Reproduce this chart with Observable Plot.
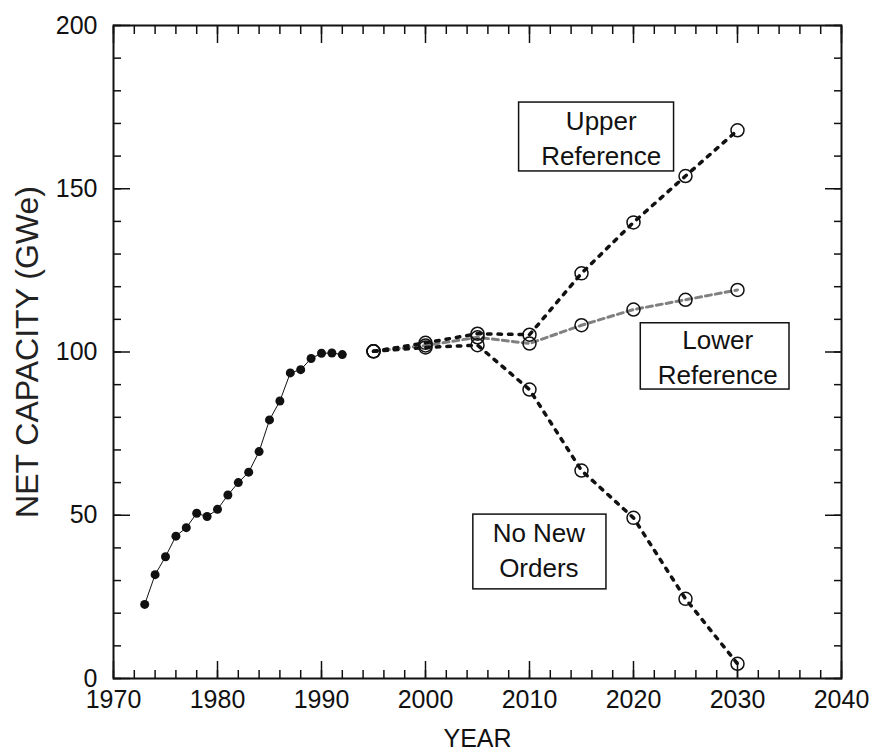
<!DOCTYPE html>
<html>
<head>
<meta charset="utf-8">
<script src="https://cdn.jsdelivr.net/npm/d3@7"></script>
<script src="https://cdn.jsdelivr.net/npm/@observablehq/plot@0.6"></script>
<style>
  html, body { margin: 0; padding: 0; background: #fff; }
  #chart svg { display: block; }
</style>
</head>
<body>
<div id="chart"></div>
<script>
// Historical net capacity (filled dots)
const histYears  = [1973, 1974, 1975, 1976, 1977, 1978, 1979, 1980, 1981, 1982, 1983, 1984, 1985, 1986, 1987, 1988, 1989, 1990, 1991, 1992];
const histValues = [22.7, 31.8, 37.3, 43.6, 46.2, 50.6, 49.6, 51.8, 56.2, 60.0, 63.2, 69.5, 79.2, 85.0, 93.6, 94.6, 98.0, 99.6, 99.7, 99.2];

// Projections (open circles)
const projYears   = [1995, 2000, 2005, 2010, 2015, 2020, 2025, 2030];
const upperValues = [100.2, 102.8, 105.6, 105.3, 124.1, 139.7, 153.9, 167.9];
const lowerValues = [100.2, 102.0, 104.5, 102.6, 108.2, 113.0, 116.0, 119.0];
const noNewValues = [100.2, 101.4, 102.1, 88.5, 63.7, 49.2, 24.4, 4.5];

// Tick values
const xMajorTicks = [1970, 1980, 1990, 2000, 2010, 2020, 2030, 2040];
const xMinorTicks = d3.range(1970, 2041, 2);
const yMajorTicks = [0, 50, 100, 150, 200];
const yMinorTicks = d3.range(0, 201, 10);

// Annotation boxes (data coordinates)
const labelNames = ["Upper\nReference", "Lower\nReference", "No New\nOrders"];
const labelX     = [2016.9, 2028.1, 2010.9];
const labelY     = [166.0, 99.0, 39.8];
const boxX1      = [2009.0, 2020.7, 2004.6];
const boxX2      = [2023.9, 2035.0, 2017.4];
const boxY1      = [155.3, 88.5, 27.3];
const boxY2      = [176.4, 108.8, 50.2];

const hist = histYears.map((year, i) => ({year, value: histValues[i]}));
const series = [
  {name: "Upper", values: upperValues},
  {name: "Lower", values: lowerValues},
  {name: "NoNew", values: noNewValues}
];
const proj = series.flatMap(s => projYears.map((year, i) => ({series: s.name, year, value: s.values[i]})));
const labels = labelNames.map((text, i) => ({
  text, x: labelX[i], y: labelY[i], x1: boxX1[i], x2: boxX2[i], y1: boxY1[i], y2: boxY2[i]
}));

const font = "'Liberation Sans', Arial, Helvetica, sans-serif";
const blackDash = {stroke: "#111", strokeWidth: 3.5, strokeDasharray: "3.5,7"};
const grayDash  = {stroke: "#808080", strokeWidth: 3, strokeDasharray: "6,4"};

const chart = Plot.plot({
  width: 869,
  height: 751,
  marginLeft: 113,
  marginRight: 28,
  marginTop: 25,
  marginBottom: 73,
  style: {fontFamily: font, fontSize: "25px", color: "#111", background: "#fff"},
  x: {domain: [1970, 2040]},
  y: {domain: [0, 200]},
  marks: [
    // ticks, inward, on all four sides
    Plot.axisX({anchor: "bottom", ticks: xMinorTicks, tickSize: -8, tickFormat: () => "", label: null, strokeWidth: 1.5}),
    Plot.axisX({anchor: "bottom", ticks: xMajorTicks, tickSize: -17, tickFormat: () => "", label: null, strokeWidth: 1.5}),
    Plot.axisX({anchor: "top", ticks: xMinorTicks, tickSize: -8, tickFormat: () => "", label: null, strokeWidth: 1.5}),
    Plot.axisX({anchor: "top", ticks: xMajorTicks, tickSize: -17, tickFormat: () => "", label: null, strokeWidth: 1.5}),
    Plot.axisY({anchor: "left", ticks: yMinorTicks, tickSize: -8, tickFormat: () => "", label: null, strokeWidth: 1.5}),
    Plot.axisY({anchor: "left", ticks: yMajorTicks, tickSize: -17, tickFormat: () => "", label: null, strokeWidth: 1.5}),
    Plot.axisY({anchor: "right", ticks: yMinorTicks, tickSize: -8, tickFormat: () => "", label: null, strokeWidth: 1.5}),
    Plot.axisY({anchor: "right", ticks: yMajorTicks, tickSize: -17, tickFormat: () => "", label: null, strokeWidth: 1.5}),
    // tick labels
    Plot.axisX({anchor: "bottom", ticks: xMajorTicks, tickSize: 0, tickPadding: 12, tickFormat: d => String(d), label: null, fontSize: 25}),
    Plot.axisY({anchor: "left", ticks: yMajorTicks, tickSize: 0, tickPadding: 16, tickFormat: d => String(d), label: null, fontSize: 25}),
    // axis titles
    Plot.text(["YEAR"], {frameAnchor: "bottom", dy: 60, fontSize: 25, fill: "#111", textAnchor: "middle", lineAnchor: "middle"}),
    Plot.text(["NET CAPACITY (GWe)"], {frameAnchor: "left", dx: -86, rotate: -90, fontSize: 32, fill: "#222", textAnchor: "middle", lineAnchor: "middle"}),
    Plot.frame({stroke: "#111", strokeWidth: 2}),
    // historical
    Plot.line(hist, {x: "year", y: "value", stroke: "#111", strokeWidth: 1}),
    Plot.dot(hist, {x: "year", y: "value", r: 4.5, fill: "#111", stroke: "none"}),
    // projections
    Plot.line(proj.filter(d => d.series === "Lower"), {x: "year", y: "value", ...grayDash}),
    Plot.line(proj.filter(d => d.series === "NoNew"), {x: "year", y: "value", ...blackDash}),
    Plot.line(proj.filter(d => d.series === "Upper"), {x: "year", y: "value", ...blackDash}),
    Plot.dot(proj, {x: "year", y: "value", r: 6.5, fill: "none", stroke: "#111", strokeWidth: 1.5}),
    // annotations
    Plot.rect(labels, {x1: "x1", x2: "x2", y1: "y1", y2: "y2", fill: "#fff", stroke: "#111", strokeWidth: 1.5}),
    Plot.text(labels, {x: "x", y: "y", text: "text", fontSize: 26, lineHeight: 1.33, fill: "#111", lineAnchor: "middle"})
  ]
});

document.getElementById("chart").append(chart);
</script>
</body>
</html>
